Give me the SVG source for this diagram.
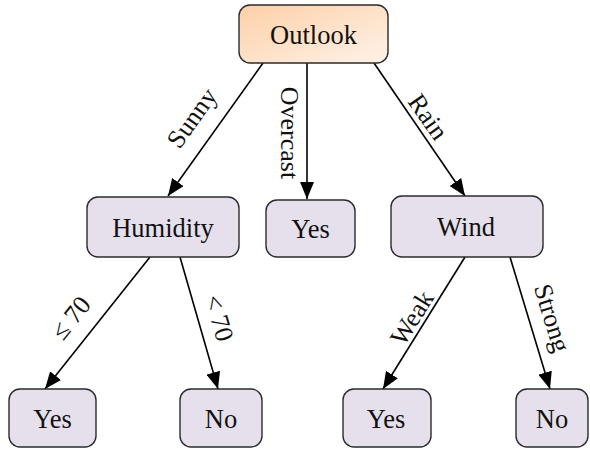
<svg xmlns="http://www.w3.org/2000/svg" width="590" height="449" viewBox="0 0 590 449">
  <style>
    .node rect { stroke: #2b2b2b; stroke-width: 1.4; }
    .leaf rect { fill: #e5e0ec; }
    .root rect { fill: url(#rootFill); }
    .node text { font-family: "Liberation Serif", "Times New Roman", serif; font-size: 26.5px; fill: #111; text-anchor: middle; dominant-baseline: central; }
    .edges line { stroke: #000; stroke-width: 1.6; marker-end: url(#arrow); }
    .edges text { font-family: "Liberation Serif", "Times New Roman", serif; font-size: 26px; fill: #111; text-anchor: middle; dominant-baseline: central; }
  </style>
  <defs>
    <linearGradient id="rootFill" x1="0" y1="0" x2="1" y2="1">
      <stop offset="0" stop-color="#fdd0a8"/>
      <stop offset="1" stop-color="#fff2e8"/>
    </linearGradient>
    <marker id="arrow" markerUnits="userSpaceOnUse" markerWidth="17" markerHeight="14" refX="17" refY="7" orient="auto">
      <path d="M0,0 L17,7 L0,14 z" fill="#000"/>
    </marker>
  </defs>

  <!-- connectors -->
  <g id="edges" class="edges">
    <line x1="263" y1="63" x2="168" y2="196"/>
    <line x1="307" y1="63" x2="307" y2="199"/>
    <line x1="374" y1="63" x2="465" y2="196"/>
    <line x1="150" y1="257" x2="45" y2="389"/>
    <line x1="180" y1="257" x2="218" y2="389"/>
    <line x1="465" y1="257" x2="383" y2="389"/>
    <line x1="510" y1="257" x2="550" y2="389"/>
    <text transform="translate(192,118) rotate(-54.5)">Sunny</text>
    <text transform="translate(289,133) rotate(90)">Overcast</text>
    <text transform="translate(428,117) rotate(55)">Rain</text>
    <text transform="translate(71,318) rotate(-51.3)">≤ 70</text>
    <text transform="translate(219,318) rotate(74)">&lt; 70</text>
    <text transform="translate(412,318) rotate(-58)">Weak</text>
    <text transform="translate(552,318) rotate(73)">Strong</text>
  </g>

  <g id="outlook" class="node root">
    <rect x="239" y="5" width="149" height="58" rx="11"/>
    <text x="313.5" y="35">Outlook</text>
  </g>
  <g id="humidity" class="node leaf">
    <rect x="87" y="197" width="152" height="60" rx="11"/>
    <text x="163" y="228">Humidity</text>
  </g>
  <g id="overcast-yes" class="node leaf">
    <rect x="266" y="200" width="89" height="57" rx="11"/>
    <text x="310.5" y="229">Yes</text>
  </g>
  <g id="wind" class="node leaf">
    <rect x="391" y="196" width="152" height="61" rx="11"/>
    <text x="466" y="227">Wind</text>
  </g>
  <g id="humidity-low-yes" class="node leaf">
    <rect x="9" y="389" width="87" height="58" rx="11"/>
    <text x="52.5" y="419">Yes</text>
  </g>
  <g id="humidity-high-no" class="node leaf">
    <rect x="180" y="389" width="82" height="58" rx="11"/>
    <text x="221" y="419">No</text>
  </g>
  <g id="wind-weak-yes" class="node leaf">
    <rect x="343" y="389" width="88" height="58" rx="11"/>
    <text x="386" y="419">Yes</text>
  </g>
  <g id="wind-strong-no" class="node leaf">
    <rect x="516" y="389" width="72" height="58" rx="11"/>
    <text x="552" y="419">No</text>
  </g>
</svg>
